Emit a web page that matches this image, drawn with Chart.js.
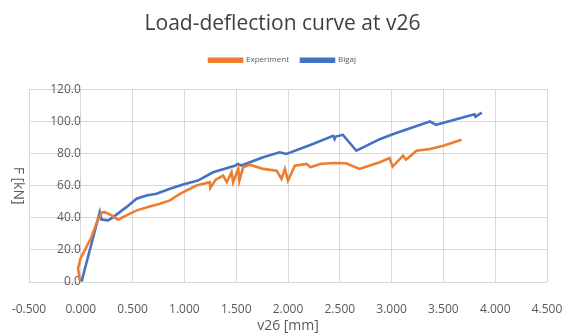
<!DOCTYPE html>
<html>
<head>
<meta charset="utf-8">
<script src="https://cdn.jsdelivr.net/npm/chart.js@4"></script>
<style>
  html, body { margin: 0; padding: 0; background: #fff; }
  #wrap { width: 565px; height: 334px; }
</style>
</head>
<body>
<div id="wrap"><canvas id="loadChart"></canvas></div>
<script>
// Load-deflection data
const expX = [-0.010, -0.026, -0.003, 0.039, 0.103, 0.150, 0.200, 0.232, 0.296, 0.360, 0.440, 0.540, 0.666, 0.763, 0.860, 0.956, 1.117, 1.245, 1.250, 1.300, 1.374, 1.410, 1.455, 1.470, 1.520, 1.530, 1.567, 1.630, 1.760, 1.890, 1.937, 1.970, 2.000, 2.066, 2.180, 2.215, 2.310, 2.435, 2.560, 2.690, 2.886, 2.980, 3.010, 3.110, 3.140, 3.240, 3.370, 3.500, 3.675];
const expY = [1.2, 8.5, 14.7, 19.8, 28.0, 36.3, 43.1, 43.5, 41.5, 38.8, 41.5, 44.6, 47.0, 48.7, 50.8, 54.9, 60.0, 62.1, 58.6, 63.5, 66.2, 62.1, 68.3, 62.1, 70.4, 63.0, 71.4, 73.0, 70.4, 69.3, 64.2, 70.4, 63.1, 72.4, 73.5, 71.4, 73.5, 74.1, 73.9, 70.4, 74.5, 77.2, 71.8, 78.6, 76.1, 81.7, 82.8, 84.8, 88.5];

const bigajX = [0.007, 0.183, 0.200, 0.264, 0.312, 0.440, 0.538, 0.634, 0.730, 0.860, 0.987, 1.130, 1.277, 1.486, 1.520, 1.550, 1.760, 1.920, 1.985, 2.240, 2.435, 2.450, 2.460, 2.530, 2.660, 2.886, 3.010, 3.370, 3.430, 3.660, 3.800, 3.810, 3.870];
const bigajY = [0.2, 43.5, 38.8, 38.4, 40.4, 46.6, 51.8, 53.9, 54.9, 58.0, 60.7, 63.1, 68.3, 72.4, 73.5, 72.5, 77.6, 80.7, 79.7, 85.9, 91.0, 89.0, 90.5, 91.6, 81.7, 88.9, 92.0, 99.9, 97.8, 101.9, 104.4, 102.8, 105.4];

const seriesNames = ['Experiment', 'Bigaj'];
const chartTitle = 'Load-deflection curve at v26';
const xTitle = 'v26 [mm]';
const yTitle = 'F [kN]';

function toPoints(xs, ys) {
    return xs.map((x, i) => ({ x: x, y: ys[i] }));
}

const FONT = "'Open Sans', 'Liberation Sans', sans-serif";
const GRID = '#d9d9d9';
const TEXT = '#595959';

// Extra gap under the legend, like the Excel layout
const legendGap = {
    id: 'legendGap',
    beforeInit(chart) {
        const origFit = chart.legend.fit;
        chart.legend.fit = function () {
            origFit.bind(chart.legend)();
            this.height += 15;
        };
    }
};

new Chart(document.getElementById('loadChart'), {
    type: 'scatter',
    data: {
        datasets: [
            {
                label: seriesNames[0],
                data: toPoints(expX, expY),
                showLine: true,
                borderColor: '#ed7d31',
                backgroundColor: '#ed7d31',
                borderWidth: 2.6,
                pointRadius: 0,
                tension: 0
            },
            {
                label: seriesNames[1],
                data: toPoints(bigajX, bigajY),
                showLine: true,
                borderColor: '#4472c4',
                backgroundColor: '#4472c4',
                borderWidth: 2.6,
                pointRadius: 0,
                tension: 0
            }
        ]
    },
    plugins: [legendGap],
    options: {
        responsive: true,
        maintainAspectRatio: false,
        animation: false,
        layout: { padding: { left: 0, right: 0, top: 9, bottom: 0 } },
        plugins: {
            title: {
                display: true,
                text: chartTitle,
                color: '#404040',
                font: { family: FONT, size: 21, weight: 'normal' },
                padding: { top: 2, bottom: 8 }
            },
            legend: {
                display: true,
                labels: {
                    color: TEXT,
                    boxWidth: 33,
                    boxHeight: 3,
                    padding: 12,
                    font: { family: FONT, size: 8 }
                }
            },
            tooltip: { enabled: false }
        },
        scales: {
            x: {
                type: 'linear',
                min: -0.5,
                max: 4.5,
                grid: { color: GRID, drawTicks: false },
                border: { display: false },
                afterFit: function (scale) {
                    scale.height = 52;
                    scale.paddingLeft = 29;
                    scale.paddingRight = 18;
                },
                ticks: {
                    stepSize: 0.5,
                    color: TEXT,
                    padding: 20,
                    font: { family: FONT, size: 12 },
                    callback: function (value) {
                        return value.toFixed(3);
                    }
                },
                title: {
                    display: true,
                    text: xTitle,
                    color: TEXT,
                    font: { family: FONT, size: 14 },
                    padding: { top: 0, bottom: 0 }
                }
            },
            y: {
                type: 'linear',
                position: { x: 0 },
                min: 0,
                max: 120,
                grid: { color: GRID, drawTicks: false },
                border: { display: false },
                ticks: {
                    stepSize: 20,
                    color: TEXT,
                    padding: 12,
                    font: { family: FONT, size: 12 },
                    callback: function (value) {
                        return value.toFixed(1);
                    }
                },
                title: {
                    display: true,
                    text: yTitle,
                    color: TEXT,
                    font: { family: FONT, size: 14 },
                    padding: { top: 0, bottom: 4 }
                }
            }
        }
    }
});
</script>
</body>
</html>
